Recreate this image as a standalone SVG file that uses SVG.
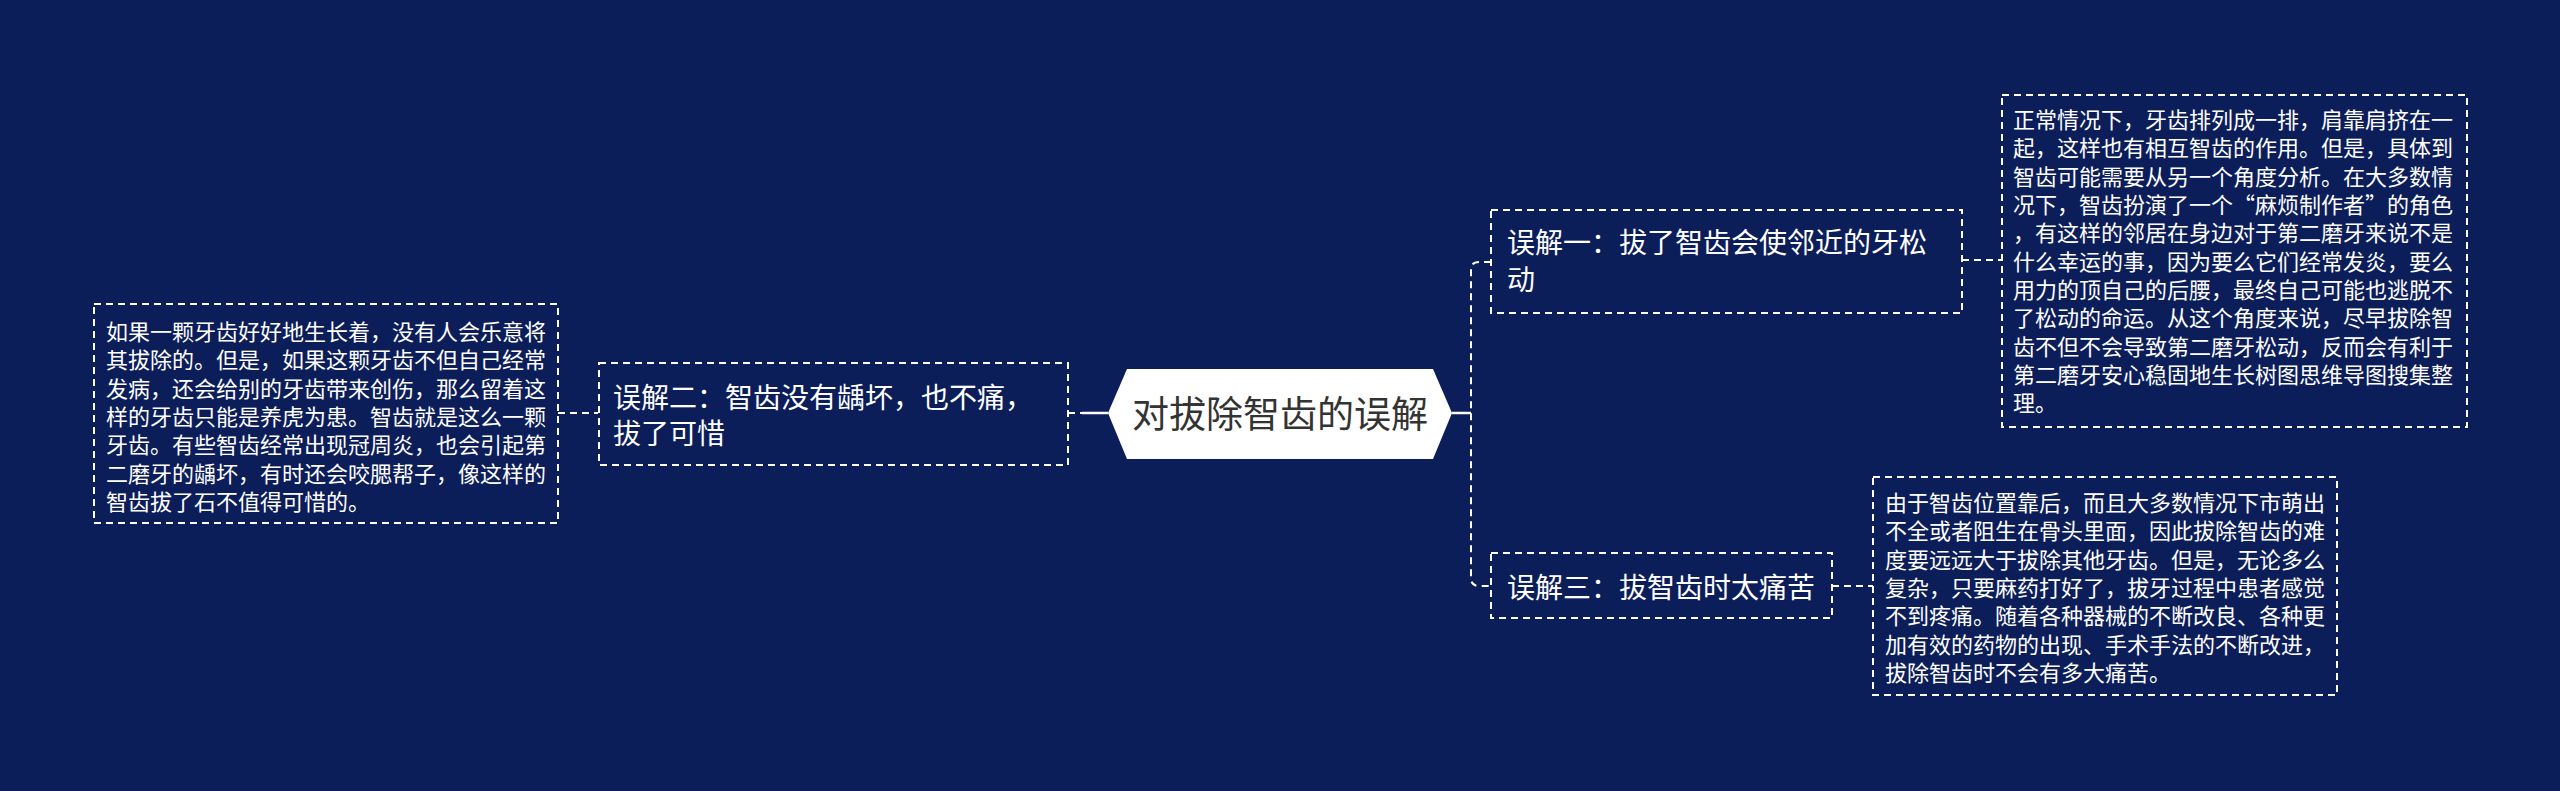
<svg xmlns="http://www.w3.org/2000/svg" width="2560" height="791" viewBox="0 0 2560 791">
<style>
.box{fill:none;stroke:#ffffff;stroke-width:2;stroke-dasharray:7 5}
.conn{fill:none;stroke:#ffffff;stroke-width:2;stroke-dasharray:7 5}
.solid{fill:none;stroke:#ffffff;stroke-width:2.5}
.t{font-family:"Noto Sans CJK SC","Microsoft YaHei",sans-serif;fill:#ffffff}
.s{font-size:22px}
.m{font-size:28px}
</style>
<rect x="0" y="0" width="2560" height="791" fill="#0c1e5a"/>
<g id="connectors">
<path class="solid" d="M1082 413 H1108"/>
<path class="conn" d="M1068 413 H1082"/>
<path class="solid" d="M1452 413 H1471"/>
<path class="conn" d="M1491 262 H1479 Q1471 262 1471 270 V578 Q1471 586 1479 586 H1491"/>
<path class="conn" d="M1962 260 H2002"/>
<path class="conn" d="M1832 586 H1873"/>
<path class="conn" d="M558 413 H598"/>
</g>
<g id="root">
<polygon points="1108,413 1127,369 1433,369 1452,413 1433,459 1127,459" fill="#ffffff"/>
<text class="t" x="1280" y="428" text-anchor="middle" style="font-size:37px;fill:#333333">对拔除智齿的误解</text>
</g>
<g id="node-m2">
<rect class="box" x="599" y="363" width="469" height="102"/>
<text class="t m" x="613" y="408">误解二：智齿没有龋坏，也不痛，</text>
<text class="t m" x="613" y="444">拔了可惜</text>
</g>
<g id="node-m2-detail">
<rect class="box" x="94" y="304" width="464" height="219"/>
<text class="t s" x="106" y="340">如果一颗牙齿好好地生长着，没有人会乐意将</text>
<text class="t s" x="106" y="368">其拔除的。但是，如果这颗牙齿不但自己经常</text>
<text class="t s" x="106" y="397">发病，还会给别的牙齿带来创伤，那么留着这</text>
<text class="t s" x="106" y="425">样的牙齿只能是养虎为患。智齿就是这么一颗</text>
<text class="t s" x="106" y="453">牙齿。有些智齿经常出现冠周炎，也会引起第</text>
<text class="t s" x="106" y="482">二磨牙的龋坏，有时还会咬腮帮子，像这样的</text>
<text class="t s" x="106" y="510">智齿拔了石不值得可惜的。</text>
</g>
<g id="node-m1">
<rect class="box" x="1491" y="210" width="471" height="103"/>
<text class="t m" x="1507" y="253">误解一：拔了智齿会使邻近的牙松</text>
<text class="t m" x="1507" y="290">动</text>
</g>
<g id="node-m1-detail">
<rect class="box" x="2002" y="95" width="465" height="332"/>
<text class="t s" x="2013" y="128">正常情况下，牙齿排列成一排，肩靠肩挤在一</text>
<text class="t s" x="2013" y="156">起，这样也有相互智齿的作用。但是，具体到</text>
<text class="t s" x="2013" y="185">智齿可能需要从另一个角度分析。在大多数情</text>
<text class="t s" x="2013" y="213">况下，智齿扮演了一个“麻烦制作者”的角色</text>
<text class="t s" x="2013" y="241">，有这样的邻居在身边对于第二磨牙来说不是</text>
<text class="t s" x="2013" y="270">什么幸运的事，因为要么它们经常发炎，要么</text>
<text class="t s" x="2013" y="298">用力的顶自己的后腰，最终自己可能也逃脱不</text>
<text class="t s" x="2013" y="326">了松动的命运。从这个角度来说，尽早拔除智</text>
<text class="t s" x="2013" y="355">齿不但不会导致第二磨牙松动，反而会有利于</text>
<text class="t s" x="2013" y="383">第二磨牙安心稳固地生长树图思维导图搜集整</text>
<text class="t s" x="2013" y="411">理。</text>
</g>
<g id="node-m3">
<rect class="box" x="1491" y="553" width="341" height="65"/>
<text class="t m" x="1507" y="598">误解三：拔智齿时太痛苦</text>
</g>
<g id="node-m3-detail">
<rect class="box" x="1873" y="477" width="464" height="218"/>
<text class="t s" x="1885" y="511">由于智齿位置靠后，而且大多数情况下市萌出</text>
<text class="t s" x="1885" y="539">不全或者阻生在骨头里面，因此拔除智齿的难</text>
<text class="t s" x="1885" y="568">度要远远大于拔除其他牙齿。但是，无论多么</text>
<text class="t s" x="1885" y="596">复杂，只要麻药打好了，拔牙过程中患者感觉</text>
<text class="t s" x="1885" y="624">不到疼痛。随着各种器械的不断改良、各种更</text>
<text class="t s" x="1885" y="653">加有效的药物的出现、手术手法的不断改进，</text>
<text class="t s" x="1885" y="681">拔除智齿时不会有多大痛苦。</text>
</g>
</svg>
